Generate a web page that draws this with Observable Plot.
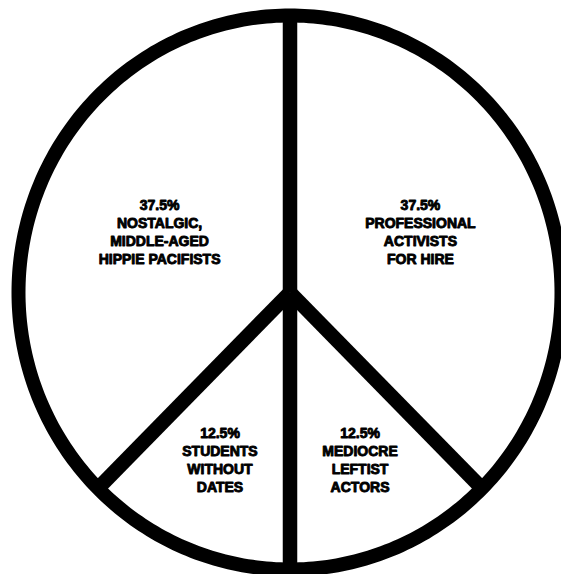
<!DOCTYPE html>
<html>
<head>
<meta charset="utf-8">
<script src="https://cdn.jsdelivr.net/npm/d3@7"></script>
<script src="https://cdn.jsdelivr.net/npm/@observablehq/plot@0.6"></script>
<style>
  html, body { margin: 0; padding: 0; background: #fff; }
  #chart svg { display: block; }
</style>
</head>
<body>
<div id="chart"></div>
<script>
// Slices, clockwise from 12 o'clock
const categories = [
  "PROFESSIONAL\nACTIVISTS\nFOR HIRE",
  "MEDIOCRE\nLEFTIST\nACTORS",
  "STUDENTS\nWITHOUT\nDATES",
  "NOSTALGIC,\nMIDDLE-AGED\nHIPPIE PACIFISTS"
];
const values = [37.5, 12.5, 12.5, 37.5];

// Build slice table (angles in degrees clockwise from top)
const total = d3.sum(values);
let acc = 0;
const slices = values.map((v, i) => {
  const start = acc / total * 360;
  acc += v;
  const end = acc / total * 360;
  return {category: categories[i], value: v, start, end, mid: (start + end) / 2};
});

const rad = a => a * Math.PI / 180;
// boundary spokes from the centre to the rim
const spokes = slices.map(s => ({x1: 0, y1: 0, x2: Math.sin(rad(s.start)), y2: Math.cos(rad(s.start))}));
// rim
const rim = d3.range(0, 361, 1).map(a => ({x: Math.sin(rad(a)), y: Math.cos(rad(a))}));
// labels at slice mid-angles
const labels = slices.map(s => {
  const r = s.value > 25 ? 0.52 : 0.674;
  return {x: r * Math.sin(rad(s.mid)), y: r * Math.cos(rad(s.mid)), text: `${s.value}%\n${s.category}`};
});

const chart = Plot.plot({
  width: 561,
  height: 574,
  marginLeft: 18,
  marginRight: 0,
  marginTop: 15,
  marginBottom: 5,
  style: {background: "#fff"},
  x: {domain: [-1, 1], axis: null},
  y: {domain: [-1, 1], axis: null},
  marks: [
    Plot.line(rim, {x: "x", y: "y", stroke: "#000", strokeWidth: 14, curve: "linear-closed"}),
    Plot.link(spokes, {x1: "x1", y1: "y1", x2: "x2", y2: "y2", stroke: "#000", strokeWidth: 14.5, strokeLinecap: "butt"}),
    Plot.text(labels, {
      x: "x", y: "y", text: "text",
      dy: -6,
      fontFamily: "Liberation Sans, Arial, sans-serif",
      fontWeight: "bold",
      fontSize: 14,
      lineHeight: 1.29,
      fill: "#000",
      stroke: "#000",
      strokeWidth: 0.9
    })
  ]
});
document.getElementById("chart").appendChild(chart);
</script>
</body>
</html>
